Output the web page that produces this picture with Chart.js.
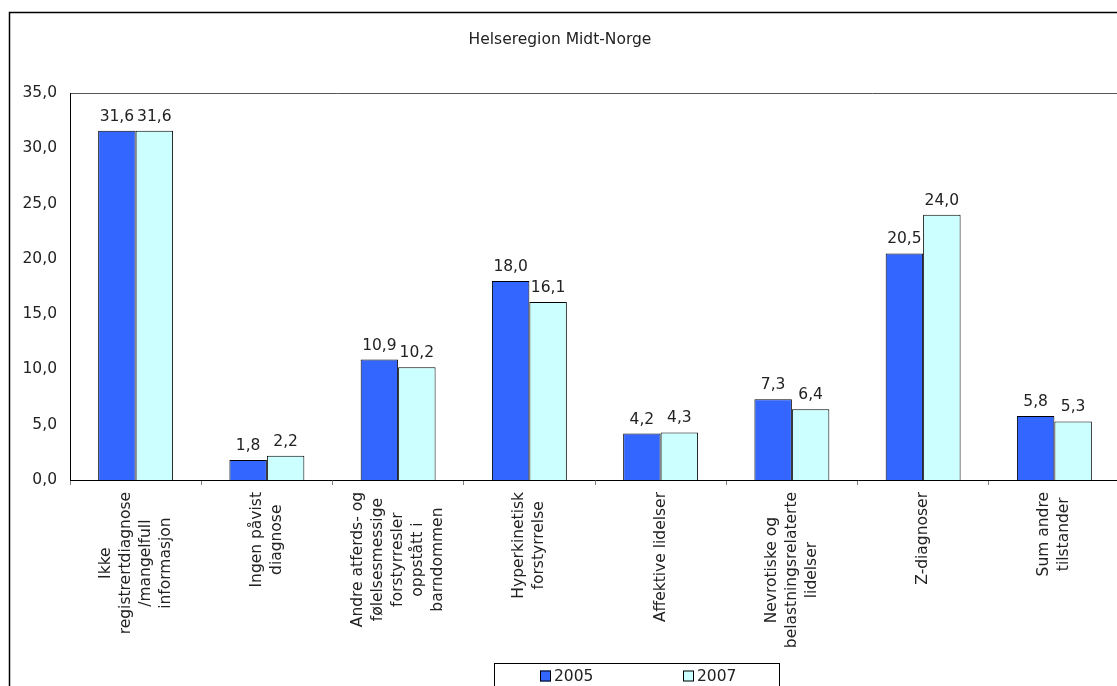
<!DOCTYPE html>
<html>
<head>
<meta charset="utf-8">
<title>Helseregion Midt-Norge</title>
<script src="https://cdn.jsdelivr.net/npm/chart.js@4/dist/chart.umd.min.js"></script>
<style>
  html, body { margin: 0; padding: 0; background: #fff; overflow: hidden; }
  canvas { display: block; }
</style>
</head>
<body>
<canvas id="diagChart" width="1140" height="710"></canvas>
<script>
/* ===============================
   DATA
================================ */
const categories = [
  ["Ikke", "registrertdiagnose", "/mangelfull", "informasjon"],
  ["Ingen påvist", "diagnose"],
  ["Andre atferds- og", "følelsesmessige", "forstyrresler", "oppstått i", "barndommen"],
  ["Hyperkinetisk", "forstyrrelse"],
  ["Affektive lidelser"],
  ["Nevrotiske og", "belastningsrelaterte", "lidelser"],
  ["Z-diagnoser"],
  ["Sum andre", "tilstander"],
];
const values2005 = [31.6, 1.8, 10.9, 18.0, 4.2, 7.3, 20.5, 5.8];
const values2007 = [31.6, 2.2, 10.2, 16.1, 4.3, 6.4, 24.0, 5.3];
const seriesNames = ["2005", "2007"];
const yTicks = [0, 5, 10, 15, 20, 25, 30, 35];
const chartTitle = "Helseregion Midt-Norge";

const FONT = "'DejaVu Sans', Verdana, sans-serif";
const FS = 15.5;
const fmt = (v) => v.toFixed(1).replace(".", ",");

/* ===============================
   PLUGINS
================================ */

// outer frame + plot area top line
const framePlugin = {
  id: "frame",
  beforeDraw(chart) {
    const ctx = chart.ctx;
    const a = chart.chartArea;
    ctx.save();
    ctx.fillStyle = "#fff";
    ctx.fillRect(0, 0, chart.width, chart.height);
    ctx.strokeStyle = "#000";
    ctx.lineWidth = 1.5;
    ctx.strokeRect(9.5, 12.5, chart.width - 19, chart.height - 20);
    ctx.strokeStyle = "#555";
    ctx.lineWidth = 1;
    ctx.beginPath();
    ctx.moveTo(a.left, Math.round(a.top) + 0.5);
    ctx.lineTo(chart.width, Math.round(a.top) + 0.5);
    ctx.stroke();
    ctx.restore();
  },
};

// value labels above bars
const valueLabels = {
  id: "valueLabels",
  afterDatasetsDraw(chart) {
    const ctx = chart.ctx;
    ctx.save();
    ctx.font = FS + "px " + FONT;
    ctx.fillStyle = "#222";
    ctx.textAlign = "center";
    ctx.textBaseline = "alphabetic";
    chart.data.datasets.forEach((ds, di) => {
      chart.getDatasetMeta(di).data.forEach((bar, i) => {
        ctx.fillText(fmt(ds.data[i]), bar.x, bar.y - 10);
      });
    });
    ctx.restore();
  },
};

// rotated, centred multi-line category labels
const catLabels = {
  id: "catLabels",
  afterDraw(chart) {
    const ctx = chart.ctx;
    const xs = chart.scales.x;
    const lineH = 20;
    ctx.save();
    ctx.font = FS + "px " + FONT;
    ctx.fillStyle = "#222";
    ctx.textAlign = "center";
    ctx.textBaseline = "middle";
    categories.forEach((lines, i) => {
      const x = xs.getPixelForValue(i);
      const w = Math.max(...lines.map((l) => ctx.measureText(l).width));
      ctx.save();
      ctx.translate(x, xs.top + 12);
      ctx.rotate(-Math.PI / 2);
      lines.forEach((l, j) => {
        ctx.fillText(l, -w / 2, (j - (lines.length - 1) / 2) * lineH);
      });
      ctx.restore();
    });
    ctx.restore();
  },
};

// boxed legend below the axis labels
const boxLegend = {
  id: "boxLegend",
  afterDraw(chart) {
    const ctx = chart.ctx;
    const left = 494, top = 663, width = 285;
    ctx.save();
    ctx.strokeStyle = "#000";
    ctx.lineWidth = 1;
    ctx.strokeRect(left + 0.5, top + 0.5, width, 60);
    ctx.font = FS + "px " + FONT;
    ctx.textBaseline = "middle";
    ctx.textAlign = "left";
    chart.data.datasets.forEach((ds, i) => {
      const x = left + 46 + i * 143;
      const y = top + 13;
      ctx.fillStyle = ds.backgroundColor;
      ctx.fillRect(x, y - 5.5, 11, 11);
      ctx.strokeStyle = "#000";
      ctx.strokeRect(x + 0.5, y - 5.5 + 0.5, 10, 10);
      ctx.fillStyle = "#222";
      ctx.fillText(ds.label, x + 14, y + 1);
    });
    ctx.restore();
  },
};

/* ===============================
   CHART
================================ */
const el = document.getElementById("diagChart");

new Chart(el, {
  type: "bar",
  data: {
    labels: categories.map((c) => c.join(" ")),
    datasets: [
      {
        label: seriesNames[0],
        data: values2005,
        backgroundColor: "#3366FF",
        borderColor: "#000",
        borderWidth: 1,
        barPercentage: 1,
        categoryPercentage: 0.571,
      },
      {
        label: seriesNames[1],
        data: values2007,
        backgroundColor: "#CCFFFF",
        borderColor: "#000",
        borderWidth: 1,
        barPercentage: 1,
        categoryPercentage: 0.571,
      },
    ],
  },
  options: {
    responsive: false,
    animation: false,
    layout: { padding: { left: 0, right: 20, top: 0, bottom: 0 } },
    plugins: {
      legend: { display: false },
      tooltip: { enabled: false },
      title: {
        display: true,
        text: chartTitle,
        color: "#222",
        font: { family: FONT, size: FS, weight: "normal", lineHeight: 1.2 },
        padding: { top: 31, bottom: 43.5 },
      },
    },
    scales: {
      x: {
        grid: {
          display: true,
          drawOnChartArea: false,
          drawTicks: true,
          tickLength: 5,
          offset: true,
          color: "#808080",
        },
        border: { display: true, color: "#000", width: 1 },
        ticks: { display: false },
        afterFit(scale) { scale.height = 230; },
      },
      y: {
        min: 0,
        max: 35,
        afterBuildTicks(scale) { scale.ticks = yTicks.map((v) => ({ value: v })); },
        grid: { display: false, drawTicks: false },
        border: { display: true, color: "#000", width: 1 },
        ticks: {
          padding: 13,
          color: "#222",
          font: { family: FONT, size: FS },
          callback: (v) => fmt(v),
        },
        afterFit(scale) { scale.width = 70; },
      },
    },
  },
  plugins: [framePlugin, valueLabels, catLabels, boxLegend],
});
</script>
</body>
</html>
